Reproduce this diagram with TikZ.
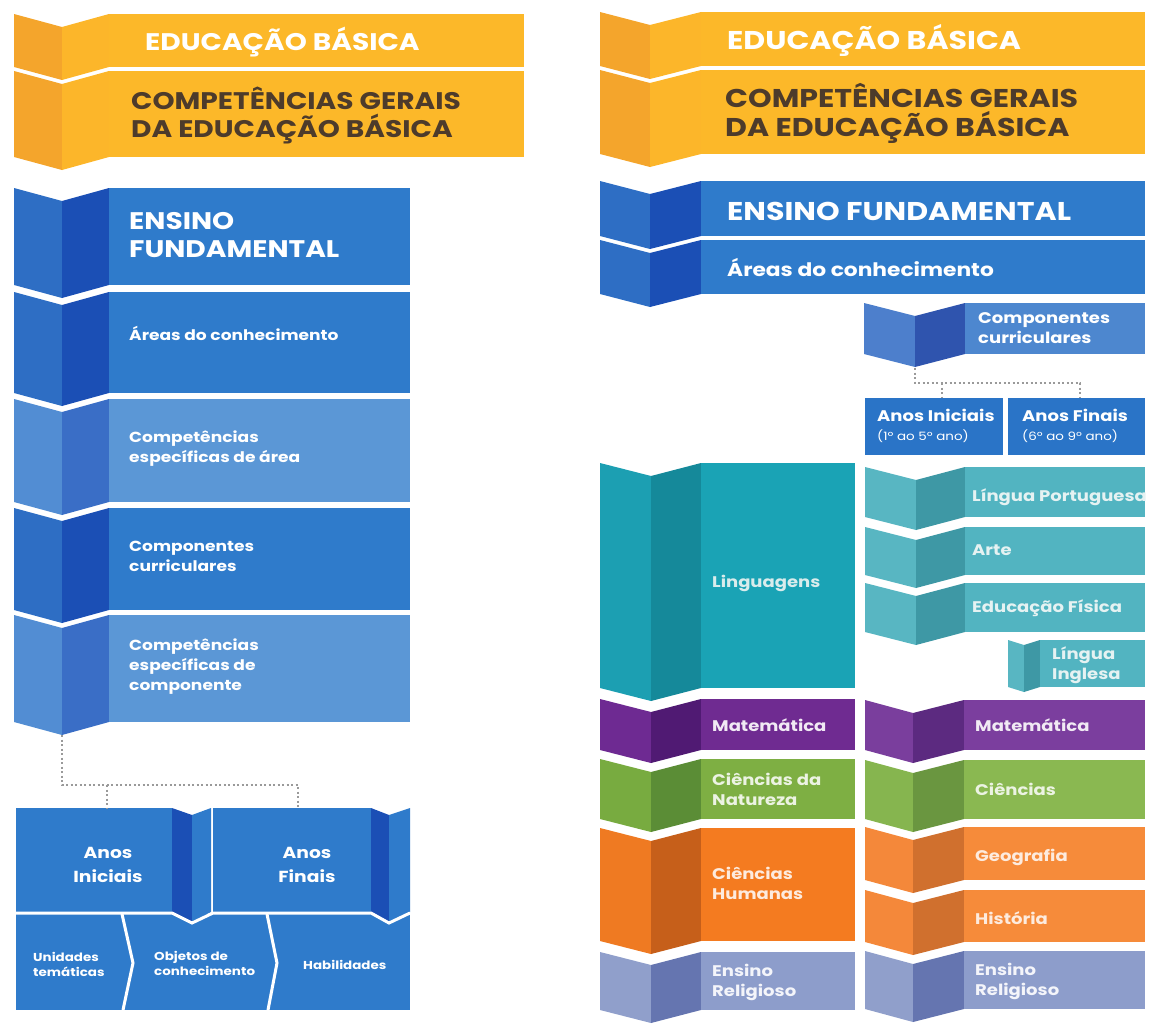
\documentclass[tikz,border=0pt]{standalone}
\usepackage{fontspec}
\setmainfont{Poppins}[FakeStretch=1.17]
\definecolor{yelMain}{HTML}{FCB829}
\definecolor{yelIn}{HTML}{FCB62A}
\definecolor{yelOut}{HTML}{F4A52C}
\definecolor{brownTxt}{HTML}{4D3B2B}
\definecolor{bluMain}{HTML}{2F7BCB}
\definecolor{bluIn}{HTML}{1B4FB5}
\definecolor{bluOut}{HTML}{2E6EC4}
\definecolor{ltbMain}{HTML}{5B97D6}
\definecolor{ltbIn}{HTML}{3A6EC6}
\definecolor{ltbOut}{HTML}{528DD3}
\definecolor{cmpMain}{HTML}{4D87CF}
\definecolor{cmpIn}{HTML}{2F54AE}
\definecolor{cmpOut}{HTML}{4D7FCC}
\definecolor{anoBlue}{HTML}{2A74C7}
\definecolor{tealMain}{HTML}{1AA3B5}
\definecolor{tealIn}{HTML}{15899A}
\definecolor{tealOut}{HTML}{1C9FB2}
\definecolor{ltTealMain}{HTML}{52B4C1}
\definecolor{ltTealIn}{HTML}{3E98A5}
\definecolor{ltTealOut}{HTML}{58B6C2}
\definecolor{purMain}{HTML}{6F2B91}
\definecolor{purIn}{HTML}{501A73}
\definecolor{purOut}{HTML}{6E2A92}
\definecolor{rpurMain}{HTML}{7B3E9E}
\definecolor{rpurIn}{HTML}{5C2A80}
\definecolor{rpurOut}{HTML}{7A3E9D}
\definecolor{grnMain}{HTML}{7EAF43}
\definecolor{grnIn}{HTML}{5B8D36}
\definecolor{grnOut}{HTML}{78AB40}
\definecolor{rgrnMain}{HTML}{8AB851}
\definecolor{rgrnIn}{HTML}{6A9640}
\definecolor{rgrnOut}{HTML}{86B54F}
\definecolor{orgMain}{HTML}{F47B20}
\definecolor{orgIn}{HTML}{C65F1A}
\definecolor{orgOut}{HTML}{EF7A22}
\definecolor{rorgMain}{HTML}{F68B3A}
\definecolor{rorgIn}{HTML}{D0702E}
\definecolor{rorgOut}{HTML}{F4883A}
\definecolor{lavMain}{HTML}{8D9DCB}
\definecolor{lavIn}{HTML}{6575B0}
\definecolor{lavOut}{HTML}{909FCB}
\definecolor{dotGray}{HTML}{9A9A9A}
\newcommand{\dip}{13}
\newcommand{\ribbon}[9]{%
  \fill[#7] (#1,#5) -- (#2,#5+\dip) -- (#2,#6+\dip) -- (#1,#6) -- cycle;
  \fill[#8] (#2,#5+\dip) -- (#3,#5) -- (#3,#6) -- (#2,#6+\dip) -- cycle;
  \fill[#9] (#3,#5) rectangle (#4,#6);}
\begin{document}
\begin{tikzpicture}[x=1pt, y=-1pt,
    lbl/.style={anchor=west, align=left, inner sep=0pt, text=white},
    big/.style={font=\bfseries\fontsize{24}{28}\selectfont},
    bigger/.style={font=\bfseries\fontsize{25.7}{29}\selectfont},
    mid/.style={font=\bfseries\fontsize{14.6}{20}\selectfont},
    rmid/.style={font=\bfseries\fontsize{15.4}{20}\selectfont},
    sml/.style={font=\bfseries\fontsize{11.5}{15}\selectfont},
    dotline/.style={draw=dotGray, line width=1.6pt, dash pattern=on 2pt off 2.5pt},
    cut/.style={draw=white, line width=3pt}]
  \useasboundingbox (0,0) rectangle (1158,1030);
  \ribbon{14}{62}{109}{524}{14}{67}{yelOut}{yelIn}{yelMain}
  \ribbon{14}{62}{109}{524}{71}{157}{yelOut}{yelIn}{yelMain}
  \ribbon{14}{62}{109}{410}{188}{285}{bluOut}{bluIn}{bluMain}
  \ribbon{14}{62}{109}{410}{292}{393}{bluOut}{bluIn}{bluMain}
  \ribbon{14}{62}{109}{410}{399}{502}{ltbOut}{ltbIn}{ltbMain}
  \ribbon{14}{62}{109}{410}{508}{610}{bluOut}{bluIn}{bluMain}
  \ribbon{14}{62}{109}{410}{615}{722}{ltbOut}{ltbIn}{ltbMain}
  \node[lbl, big] (eduL) at (145,42) {EDUCAÇÃO BÁSICA};
  \node[lbl, big, text=brownTxt] (cgL) at (131,115) {COMPETÊNCIAS GERAIS\\DA EDUCAÇÃO BÁSICA};
  \node[lbl, big] (efL) at (129,235) {ENSINO\\FUNDAMENTAL};
  \node[lbl, mid] (areasL) at (129,333) {Áreas do conhecimento};
  \node[lbl, mid] (ceaL) at (129,449) {Competências\\específicas de área};
  \node[lbl, mid] (ccL) at (129,556) {Componentes\\curriculares};
  \node[lbl, mid] (cecL) at (129,667) {Competências\\específicas de\\componente};
  \fill[bluMain] (16,914) rectangle (410,1010);
  \fill[bluMain] (16,808) rectangle (172,912);
  \fill[bluIn] (172,808) -- (192,815) -- (192,922) -- (172,912) -- cycle;
  \fill[bluMain] (192,815) -- (211,808) -- (211,912) -- (192,922) -- cycle;
  \fill[bluMain] (213,808) rectangle (371,912);
  \fill[bluIn] (371,808) -- (389,815) -- (389,922) -- (371,912) -- cycle;
  \fill[bluMain] (389,815) -- (410,808) -- (410,912) -- (389,922) -- cycle;
  \draw[cut] (16,913) -- (172,913) -- (192,923) -- (213,913) -- (371,913) -- (389,923) -- (410,913);
  \draw[cut] (122,914) -- (133,963) -- (123,1010);
  \draw[cut] (267,914) -- (277,963) -- (268,1010);
  \node[align=center, inner sep=0pt, text=white, font=\bfseries\fontsize{16}{24}\selectfont] (iniL) at (108,865) {Anos\\Iniciais};
  \node[align=center, inner sep=0pt, text=white, font=\bfseries\fontsize{16}{24}\selectfont] (finL) at (307,865) {Anos\\Finais};
  \node[lbl, sml] (utL) at (33,964) {Unidades\\temáticas};
  \node[lbl, sml] (ocL) at (154,963) {Objetos de\\conhecimento};
  \node[lbl, sml] (habL) at (303,965) {Habilidades};
  \coordinate (foldL) at (62,735);
  \coordinate (hubL) at (62,785);
  \coordinate (topIni) at (107,808);
  \coordinate (topFin) at (298,808);
  \draw[dotline] (foldL) -- (hubL) -| (topFin);
  \draw[dotline] (topIni |- hubL) -- (topIni);
  \ribbon{600}{650}{701}{1145}{12}{66}{yelOut}{yelIn}{yelMain}
  \ribbon{600}{650}{701}{1145}{70}{154}{yelOut}{yelIn}{yelMain}
  \ribbon{600}{650}{701}{1145}{181}{236}{bluOut}{bluIn}{bluMain}
  \ribbon{600}{650}{701}{1145}{240}{294}{bluOut}{bluIn}{bluMain}
  \ribbon{864}{915}{965}{1145}{303}{354}{cmpOut}{cmpIn}{cmpMain}
  \node[lbl, bigger] (eduR) at (727,40) {EDUCAÇÃO BÁSICA};
  \node[lbl, bigger, text=brownTxt] (cgR) at (725,113) {COMPETÊNCIAS GERAIS\\DA EDUCAÇÃO BÁSICA};
  \node[lbl, bigger] (efR) at (727,211) {ENSINO FUNDAMENTAL};
  \node[lbl, font=\bfseries\fontsize{18.6}{22}\selectfont] (areasR) at (727,267) {Áreas do conhecimento};
  \node[lbl, rmid] (ccR) at (978,328) {Componentes\\curriculares};
  \fill[anoBlue] (865,398) rectangle (1003,455);
  \fill[anoBlue] (1008,398) rectangle (1145,455);
  \node[lbl, font=\bfseries\fontsize{15.4}{19}\selectfont] (iniR) at (877,426) {Anos Iniciais\\{\mdseries\fontsize{11.5}{14}\selectfont(1º ao 5º ano)}};
  \node[lbl, font=\bfseries\fontsize{15.4}{19}\selectfont] (finR) at (1022,426) {Anos Finais\\{\mdseries\fontsize{11.5}{14}\selectfont(6º ao 9º ano)}};
  \coordinate (foldR) at (915,368);
  \coordinate (hubR) at (915,383);
  \coordinate (topIniR) at (942,398);
  \coordinate (topFinR) at (1080,398);
  \draw[dotline] (foldR) -- (hubR) -| (topFinR);
  \draw[dotline] (topIniR |- hubR) -- (topIniR);
  \ribbon{600}{651}{701}{855}{463}{688}{tealOut}{tealIn}{tealMain}
  \ribbon{865}{916}{965}{1145}{467}{517}{ltTealOut}{ltTealIn}{ltTealMain}
  \ribbon{865}{916}{965}{1145}{527}{575}{ltTealOut}{ltTealIn}{ltTealMain}
  \ribbon{865}{916}{965}{1145}{583}{632}{ltTealOut}{ltTealIn}{ltTealMain}
  {\renewcommand{\dip}{5}
  \ribbon{1008}{1024}{1040}{1145}{640}{687}{ltTealOut}{ltTealIn}{ltTealMain}}
  \ribbon{600}{651}{701}{855}{699}{750}{purOut}{purIn}{purMain}
  \ribbon{865}{913}{964}{1145}{700}{750}{rpurOut}{rpurIn}{rpurMain}
  \ribbon{600}{651}{701}{855}{759}{819}{grnOut}{grnIn}{grnMain}
  \ribbon{865}{913}{964}{1145}{760}{819}{rgrnOut}{rgrnIn}{rgrnMain}
  \ribbon{600}{651}{701}{855}{828}{941}{orgOut}{orgIn}{orgMain}
  \ribbon{865}{913}{964}{1145}{827}{880}{rorgOut}{rorgIn}{rorgMain}
  \ribbon{865}{913}{964}{1145}{890}{942}{rorgOut}{rorgIn}{rorgMain}
  \ribbon{600}{651}{701}{855}{952}{1010}{lavOut}{lavIn}{lavMain}
  \ribbon{865}{913}{964}{1145}{951}{1009}{lavOut}{lavIn}{lavMain}
  \node[lbl, rmid, text=teal!15] (lingL) at (712,583) {Linguagens};
  \node[lbl, rmid, text=teal!10] (lpR) at (972,497) {Língua Portuguesa};
  \node[lbl, rmid, text=teal!10] (arteR) at (972,550) {Arte};
  \node[lbl, rmid, text=teal!10] (efisR) at (972,608) {Educação Física};
  \node[lbl, rmid, text=teal!10] (liR) at (1052,665) {Língua\\Inglesa};
  \node[lbl, rmid, text=purMain!10] (matL) at (712,725) {Matemática};
  \node[lbl, rmid, text=purMain!10] (matR) at (975,725) {Matemática};
  \node[lbl, rmid, text=grnMain!15] (cnL) at (712,789) {Ciências da\\Natureza};
  \node[lbl, rmid, text=grnMain!15] (cienR) at (975,789) {Ciências};
  \node[lbl, rmid, text=orgMain!15] (chL) at (712,883) {Ciências\\Humanas};
  \node[lbl, rmid, text=orgMain!15] (geoR) at (975,857) {Geografia};
  \node[lbl, rmid, text=orgMain!15] (hisR) at (975,918) {História};
  \node[lbl, rmid, text=lavMain!10] (erL) at (712,982) {Ensino\\Religioso};
  \node[lbl, rmid, text=lavMain!10] (erR) at (975,981) {Ensino\\Religioso};
\end{tikzpicture}
\end{document}
